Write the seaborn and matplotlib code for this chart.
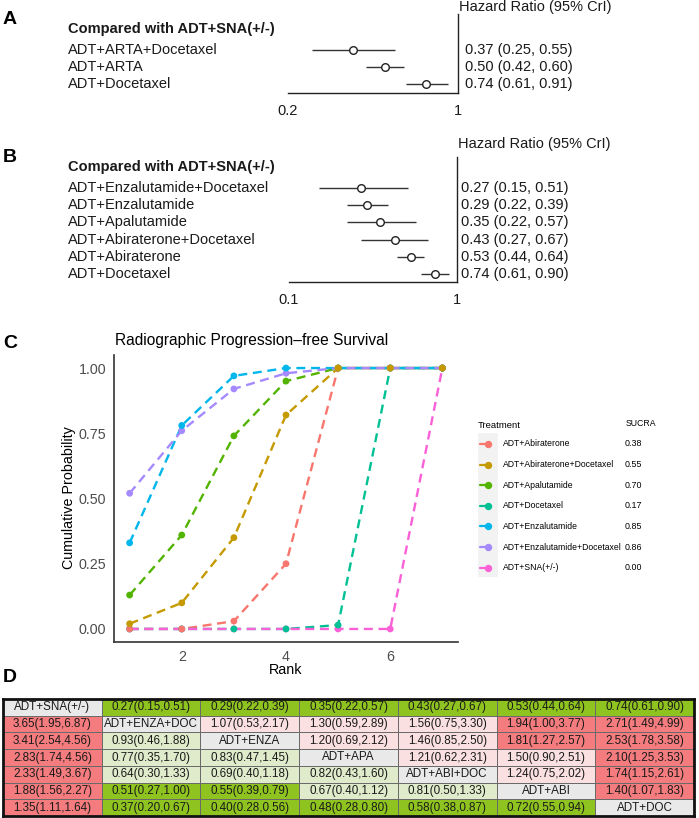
import numpy as np
import pandas as pd
import matplotlib
matplotlib.use("Agg")
import matplotlib.pyplot as plt
import matplotlib.transforms as mtransforms
from matplotlib.colors import ListedColormap
from matplotlib.lines import Line2D
from matplotlib.patches import Rectangle
from matplotlib.ticker import NullLocator
import seaborn as sns

W, H = 699, 818

# ---- panel A: pooled classes vs ADT+SNA(+/-)
a_names = ["ADT+ARTA+Docetaxel", "ADT+ARTA", "ADT+Docetaxel"]
a_hr = [0.37, 0.50, 0.74]
a_lo = [0.25, 0.42, 0.61]
a_hi = [0.55, 0.60, 0.91]

# ---- panel B: single treatments vs ADT+SNA(+/-)
b_names = ["ADT+Enzalutamide+Docetaxel", "ADT+Enzalutamide", "ADT+Apalutamide",
           "ADT+Abiraterone+Docetaxel", "ADT+Abiraterone", "ADT+Docetaxel"]
b_hr = [0.27, 0.29, 0.35, 0.43, 0.53, 0.74]
b_lo = [0.15, 0.22, 0.22, 0.27, 0.44, 0.61]
b_hi = [0.51, 0.39, 0.57, 0.67, 0.64, 0.90]

# ---- panel C: cumulative rank probabilities
ranks = [1, 2, 3, 4, 5, 6, 7]
treatments = ["ADT+Abiraterone", "ADT+Abiraterone+Docetaxel", "ADT+Apalutamide",
              "ADT+Docetaxel", "ADT+Enzalutamide", "ADT+Enzalutamide+Docetaxel",
              "ADT+SNA(+/-)"]
cum_abi = [0.00, 0.00, 0.03, 0.25, 1.00, 1.00, 1.00]
cum_abi_doc = [0.02, 0.10, 0.35, 0.82, 1.00, 1.00, 1.00]
cum_apa = [0.13, 0.36, 0.74, 0.95, 1.00, 1.00, 1.00]
cum_doc = [0.00, 0.00, 0.00, 0.00, 0.015, 1.00, 1.00]
cum_enza = [0.33, 0.78, 0.97, 1.00, 1.00, 1.00, 1.00]
cum_enza_doc = [0.52, 0.76, 0.92, 0.98, 1.00, 1.00, 1.00]
cum_sna = [0.00, 0.00, 0.00, 0.00, 0.00, 0.00, 1.00]
sucra = [0.38, 0.55, 0.70, 0.17, 0.85, 0.86, 0.00]
colors = ["#F8766D", "#C49A00", "#53B400", "#00C094", "#00B6EB", "#A58AFF", "#FB61D7"]

# ---- panel D: league table
tab_names = ["ADT+SNA(+/-)", "ADT+ENZA+DOC", "ADT+ENZA", "ADT+APA",
             "ADT+ABI+DOC", "ADT+ABI", "ADT+DOC"]
nan = np.nan
tab_hr = [[nan, 0.27, 0.29, 0.35, 0.43, 0.53, 0.74],
          [3.65, nan, 1.07, 1.30, 1.56, 1.94, 2.71],
          [3.41, 0.93, nan, 1.20, 1.46, 1.81, 2.53],
          [2.83, 0.77, 0.83, nan, 1.21, 1.50, 2.10],
          [2.33, 0.64, 0.69, 0.82, nan, 1.24, 1.74],
          [1.88, 0.51, 0.55, 0.67, 0.81, nan, 1.40],
          [1.35, 0.37, 0.40, 0.48, 0.58, 0.72, nan]]
tab_lo = [[nan, 0.15, 0.22, 0.22, 0.27, 0.44, 0.61],
          [1.95, nan, 0.53, 0.59, 0.75, 1.00, 1.49],
          [2.54, 0.46, nan, 0.69, 0.85, 1.27, 1.78],
          [1.74, 0.35, 0.47, nan, 0.62, 0.90, 1.25],
          [1.49, 0.30, 0.40, 0.43, nan, 0.75, 1.15],
          [1.56, 0.27, 0.39, 0.40, 0.50, nan, 1.07],
          [1.11, 0.20, 0.28, 0.28, 0.38, 0.55, nan]]
tab_hi = [[nan, 0.51, 0.39, 0.57, 0.67, 0.64, 0.90],
          [6.87, nan, 2.17, 2.89, 3.30, 3.77, 4.99],
          [4.56, 1.88, nan, 2.12, 2.50, 2.57, 3.58],
          [4.56, 1.70, 1.45, nan, 2.31, 2.51, 3.53],
          [3.67, 1.33, 1.18, 1.60, nan, 2.02, 2.61],
          [2.27, 1.00, 0.79, 1.12, 1.33, nan, 1.83],
          [1.64, 0.67, 0.56, 0.80, 0.87, 0.94, nan]]

sns.set_style("white")
plt.rcParams["font.family"] = ["Liberation Sans", "DejaVu Sans"]

fig = plt.figure(figsize=(W / 100, H / 100), dpi=100)


def px_axes(x0, y0, x1, y1):
    return fig.add_axes([x0 / W, 1 - y1 / H, (x1 - x0) / W, (y1 - y0) / H])


def ftext(x, y, s, **kw):
    kw.setdefault("va", "center")
    return fig.text(x / W, 1 - y / H, s, **kw)


def forest(top, bottom, left, right, xmin, names, hr, lo, hi, row0, step, val_x, head_y, hr_y):
    ax = px_axes(left, top, right, bottom)
    n = len(names)
    rows = np.arange(n)
    ylim = ((n - 1) + (bottom - (row0 + (n - 1) * step)) / step, -(row0 - top) / step)
    ax.set_xscale("log")
    ax.set_xlim(xmin, 1)
    ax.hlines(rows, lo, hi, color="#333333", lw=1.0)
    sns.scatterplot(x=hr, y=rows, ax=ax, marker="o", s=30, color="white",
                    edgecolor="#222222", linewidth=1.0, zorder=3, legend=False)
    ax.set_ylim(*ylim)
    ax.set_xticks([xmin, 1])
    ax.set_xticklabels([f"{xmin:g}", "1"])
    ax.xaxis.set_minor_locator(NullLocator())
    ax.set_yticks([])
    ax.set_xlabel("")
    ax.set_ylabel("")
    ax.tick_params(axis="x", length=5, width=1.0, pad=3, labelsize=10.5,
                   color="#222222", labelcolor="#1a1a1a")
    for side in ["top", "left"]:
        ax.spines[side].set_visible(False)
    for side in ["right", "bottom"]:
        ax.spines[side].set_linewidth(1.0)
        ax.spines[side].set_color("#222222")
    trans = mtransforms.blended_transform_factory(fig.transFigure, ax.transData)
    for i in rows:
        ax.text(68 / W, i, names[i], transform=trans, va="center", ha="left",
                fontsize=10.5, color="#1a1a1a")
        ax.text(val_x / W, i, f"{hr[i]:.2f} ({lo[i]:.2f}, {hi[i]:.2f})", transform=trans,
                va="center", ha="left", fontsize=10.5, color="#1a1a1a")
    ftext(68, head_y, "Compared with ADT+SNA(+/-)", fontsize=10.5, fontweight="bold",
          color="#1a1a1a")
    ftext(right + 1, hr_y, "Hazard Ratio (95% CrI)", fontsize=10.5, color="#1a1a1a")
    return ax


# panel letters
for lab, y in [("A", 19), ("B", 157), ("C", 343), ("D", 678)]:
    ftext(3, y, lab, fontsize=14, fontweight="bold", color="black")

forest(14, 93, 288, 458, 0.2, a_names, a_hr, a_lo, a_hi, 50, 17, 465, 29, 7)
forest(157, 282, 289, 457, 0.1, b_names, b_hr, b_lo, b_hi, 188, 17.2, 461, 167, 144)

# ---- panel C
cum_lists = [cum_abi, cum_abi_doc, cum_apa, cum_doc, cum_enza, cum_enza_doc, cum_sna]
df = pd.concat([pd.DataFrame({"rank": ranks, "prob": v, "treatment": t})
                for t, v in zip(treatments, cum_lists)], ignore_index=True)
pal = dict(zip(treatments, colors))

axc = px_axes(114, 355, 458, 642)
sns.lineplot(data=df, x="rank", y="prob", hue="treatment", hue_order=treatments,
             palette=pal, estimator=None, linewidth=1.7, linestyle=(0, (3.8, 2.4)),
             legend=False, ax=axc)
point_order = ["ADT+SNA(+/-)", "ADT+Enzalutamide+Docetaxel", "ADT+Enzalutamide",
               "ADT+Apalutamide", "ADT+Docetaxel", "ADT+Abiraterone",
               "ADT+Abiraterone+Docetaxel"]
pts = df.assign(o=df["treatment"].map({t: i for i, t in enumerate(point_order)}))
pts = pts.sort_values("o", kind="stable")
sns.scatterplot(data=pts, x="rank", y="prob", hue="treatment", palette=pal, s=24,
                linewidth=0, legend=False, ax=axc, zorder=3)
axc.set_xlim(0.7, 7.3)
axc.set_ylim(-0.05, 1.05)
axc.set_xticks([2, 4, 6])
axc.set_yticks([0, 0.25, 0.5, 0.75, 1.0])
axc.set_yticklabels([f"{v:.2f}" for v in [0, 0.25, 0.5, 0.75, 1.0]])
axc.set_xlabel("")
axc.set_ylabel("")
axc.tick_params(length=3.8, width=1.0, pad=1.8, labelsize=10.3, color="#333333",
                labelcolor="#4D4D4D")
for side in ["top", "right"]:
    axc.spines[side].set_visible(False)
for side in ["left", "bottom"]:
    axc.spines[side].set_linewidth(1.2)
    axc.spines[side].set_color("#333333")

ftext(115, 341, "Radiographic Progression\u2013free Survival", fontsize=11.2, color="black")
ftext(286, 670, "Rank", fontsize=10.3, ha="center", color="black")
ftext(69, 498, "Cumulative Probability", fontsize=10.3, ha="center", rotation=90,
      color="black")

# legend with SUCRA column
ftext(478, 425, "Treatment", fontsize=6.8, color="black")
ftext(626, 424, "SUCRA", fontsize=6.3, color="black")
fig.add_artist(Rectangle((478 / W, 1 - 577 / H), 20 / W, 144 / H,
                         transform=fig.transFigure, color="#F2F2F2", lw=0))
for i, (t, c, s) in enumerate(zip(treatments, colors, sucra)):
    y = 1 - (444 + i * 20.6) / H
    fig.add_artist(Line2D([480 / W, 487 / W], [y, y], transform=fig.transFigure,
                          color=c, lw=1.6))
    fig.add_artist(Line2D([488 / W], [y], transform=fig.transFigure, color=c,
                          marker="o", ms=4.3, lw=0))
    ftext(503, 444 + i * 20.6, t, fontsize=6.2, color="black")
    ftext(625, 444 + i * 20.6, f"{s:.2f}", fontsize=6.4, color="black")

# ---- panel D: league table as a heatmap
hr_m, lo_m, hi_m = np.array(tab_hr), np.array(tab_lo), np.array(tab_hi)
n = len(tab_names)
codes = np.zeros((n, n))
labels = np.empty((n, n), dtype=object)
for i in range(n):
    for j in range(n):
        if i == j:
            labels[i, j] = tab_names[i]
            codes[i, j] = 0
            continue
        labels[i, j] = f"{hr_m[i, j]:.2f}({lo_m[i, j]:.2f},{hi_m[i, j]:.2f})"
        if hr_m[i, j] < 1:
            codes[i, j] = 1 if hi_m[i, j] <= 1.0 else 2
        else:
            codes[i, j] = 4 if lo_m[i, j] >= 1.0 else 3

cmap = ListedColormap(["#E9E9E9", "#8FC31F", "#E0EBCB", "#FAE0E0", "#F47C7E"])
axd = px_axes(3, 699, 694, 816)
sns.heatmap(codes, cmap=cmap, vmin=-0.5, vmax=4.5, annot=labels, fmt="", cbar=False,
            linewidths=0.6, linecolor="#6a6a6a", xticklabels=False, yticklabels=False,
            annot_kws={"fontsize": 8.4, "color": "#1a1a1a"}, ax=axd)
for sp in axd.spines.values():
    sp.set_visible(True)
    sp.set_linewidth(2.0)
    sp.set_color("#111111")

fig.savefig("out.png", dpi=100)
